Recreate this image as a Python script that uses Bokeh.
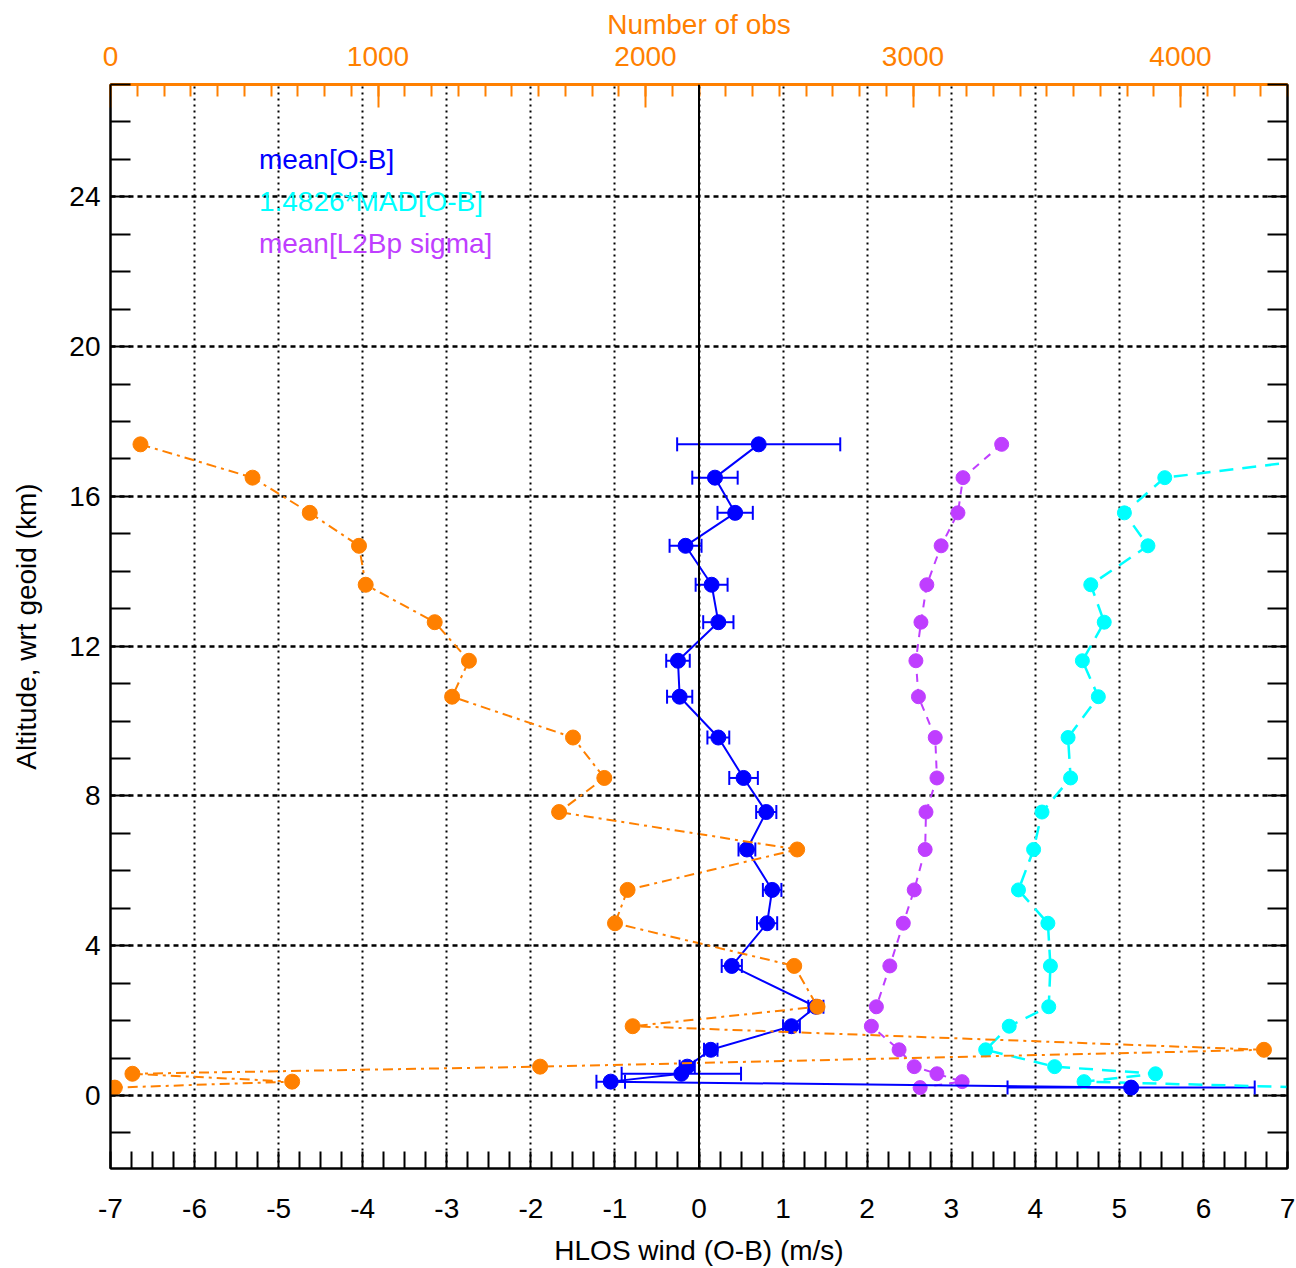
from bokeh.plotting import figure
from bokeh.models import (Range1d, LinearAxis, SingleIntervalTicker, Whisker, TeeHead,
                          ColumnDataSource, Label, Span, Grid, CustomJSTickFormatter)
from bokeh.embed import file_html
from bokeh.resources import INLINE

# ---------------- data ----------------
alt = [17.39, 16.50, 15.56, 14.68, 13.64, 12.64, 11.61, 10.65, 9.56, 8.48, 7.57,
       6.57, 5.49, 4.60, 3.46, 2.37, 1.85, 1.22, 0.77, 0.58, 0.37, 0.21]
mean_ob = [0.71, 0.19, 0.43, -0.16, 0.15, 0.23, -0.25, -0.23, 0.23, 0.53, 0.80,
           0.57, 0.87, 0.81, 0.39, 1.39, 1.10, 0.14, -0.14, -0.21, -1.05, 5.14]
mean_ob_err = [0.97, 0.27, 0.21, 0.19, 0.19, 0.18, 0.14, 0.15, 0.13, 0.17, 0.12,
               0.10, 0.11, 0.12, 0.12, 0.09, 0.10, 0.08, 0.09, 0.71, 0.17, 1.47]
mad_ob = [8.8, 5.54, 5.06, 5.34, 4.66, 4.82, 4.56, 4.75, 4.39, 4.42, 4.08,
          3.98, 3.80, 4.15, 4.18, 4.16, 3.69, 3.41, 4.23, 5.43, 4.58, 7.3]
l2bp_sigma = [3.60, 3.14, 3.08, 2.88, 2.71, 2.64, 2.58, 2.61, 2.81, 2.83, 2.70,
              2.69, 2.56, 2.43, 2.27, 2.11, 2.05, 2.38, 2.56, 2.83, 3.13, 2.63]
n_obs = [112, 531, 745, 929, 954, 1212, 1340, 1277, 1729, 1846, 1677,
         2567, 1933, 1886, 2556, 2643, 1952, 4312, 1606, 82, 679, 16]

x_ticks = [-7, -6, -5, -4, -3, -2, -1, 0, 1, 2, 3, 4, 5, 6, 7]
x_tick_labels = ["-7", "-6", "-5", "-4", "-3", "-2", "-1", "0", "1", "2", "3", "4", "5", "6", "7"]
y_ticks = [0, 4, 8, 12, 16, 20, 24]
y_tick_labels = ["0", "4", "8", "12", "16", "20", "24"]
obs_ticks = [0, 1000, 2000, 3000, 4000]
obs_tick_labels = ["0", "1000", "2000", "3000", "4000"]

legend_texts = ["mean[O-B]", "1.4826*MAD[O-B]", "mean[L2Bp sigma]"]

FONT = "Liberation Sans"
FS = "28px"
ORANGE = "#ff8000"
BLUE = "#0000ff"
CYAN = "#00ffff"
PURPLE = "#bf3eff"

p = figure(width=1296, height=1268, output_backend="svg", toolbar_location=None,
           x_range=Range1d(-7, 7), y_range=Range1d(-1.95, 27),
           x_axis_location=None, y_axis_location=None,
           min_border_left=110, min_border_right=9, min_border_top=84, min_border_bottom=99)
# drop the default (invisible-axis) grids
p.center = [r for r in p.center if not isinstance(r, Grid)]
p.extra_x_ranges = {"obs": Range1d(0, 4400)}
p.outline_line_color = "black"
p.outline_line_width = 2
p.background_fill_color = "white"
p.border_fill_color = "white"

# grids
p.add_layout(Grid(dimension=0, ticker=SingleIntervalTicker(interval=1),
                  grid_line_color="black", grid_line_dash="2 4", grid_line_width=2))
p.add_layout(Grid(dimension=1, ticker=SingleIntervalTicker(interval=4),
                  grid_line_color="black", grid_line_dash="5 4", grid_line_width=2.5))
p.add_layout(Span(location=0, dimension="height", line_color="black", line_width=2))

def style_axis(ax, color, minor_len, major_len=0, lw=2):
    ax.axis_line_color = color
    ax.axis_line_width = lw
    ax.major_tick_line_color = color
    ax.major_tick_line_width = 2
    ax.minor_tick_line_color = color
    ax.minor_tick_line_width = 2
    ax.major_tick_in = major_len
    ax.major_tick_out = 0
    ax.minor_tick_in = minor_len
    ax.minor_tick_out = 0
    ax.major_label_text_font = FONT
    ax.major_label_text_font_size = FS
    ax.major_label_text_color = color
    ax.axis_label_text_font = FONT
    ax.axis_label_text_font_size = FS
    ax.axis_label_text_font_style = "normal"
    ax.axis_label_text_color = color

xb = LinearAxis(ticker=SingleIntervalTicker(interval=1, num_minor_ticks=4),
                axis_label="HLOS wind (O-B) (m/s)",
                major_label_overrides=dict(zip(x_ticks, x_tick_labels)))
style_axis(xb, "black", 17)
xb.major_label_standoff = 30
xb.axis_label_standoff = 14
p.add_layout(xb, "below")

yl = LinearAxis(ticker=SingleIntervalTicker(interval=4, num_minor_ticks=4),
                axis_label="Altitude, wrt geoid (km)",
                major_label_overrides=dict(zip(y_ticks, y_tick_labels)))
style_axis(yl, "black", 20)
yl.major_label_standoff = 10
yl.axis_label_standoff = 24
p.add_layout(yl, "left")

yr = LinearAxis(ticker=SingleIntervalTicker(interval=4, num_minor_ticks=4),
                formatter=CustomJSTickFormatter(code="return ''"))
style_axis(yr, "black", 20)
yr.major_label_standoff = 0
p.add_layout(yr, "right")

xt = LinearAxis(x_range_name="obs", ticker=SingleIntervalTicker(interval=1000, num_minor_ticks=10),
                axis_label="Number of obs",
                major_label_overrides=dict(zip(obs_ticks, obs_tick_labels)))
style_axis(xt, ORANGE, 12, major_len=23, lw=3)
xt.major_label_standoff = 19
xt.axis_label_standoff = 4
p.add_layout(xt, "above")

# cyan MAD
p.line(mad_ob, alt, line_color=CYAN, line_width=2.5, line_dash="14 9")
p.scatter(mad_ob, alt, size=14, fill_color=CYAN, line_color=CYAN)

# purple sigma
p.line(l2bp_sigma, alt, line_color=PURPLE, line_width=2, line_dash="8 7")
p.scatter(l2bp_sigma, alt, size=14, fill_color=PURPLE, line_color=PURPLE)

# blue mean with error bars
src_b = ColumnDataSource(dict(x=mean_ob, y=alt,
                              lo=[m - e for m, e in zip(mean_ob, mean_ob_err)],
                              hi=[m + e for m, e in zip(mean_ob, mean_ob_err)]))
p.add_layout(Whisker(source=src_b, base="y", lower="lo", upper="hi", dimension="width",
                     line_color=BLUE, line_width=2,
                     lower_head=TeeHead(size=14, line_color=BLUE, line_width=2),
                     upper_head=TeeHead(size=14, line_color=BLUE, line_width=2)))
p.line("x", "y", source=src_b, line_color=BLUE, line_width=2)
p.scatter("x", "y", source=src_b, size=15, fill_color=BLUE, line_color=BLUE)

# orange number of obs
p.line(n_obs, alt, x_range_name="obs", line_color=ORANGE, line_width=2, line_dash="10 5 3 5")
p.scatter(n_obs, alt, x_range_name="obs", size=15, fill_color=ORANGE, line_color=ORANGE)

# legend texts
for txt, col, yy in zip(legend_texts, [BLUE, CYAN, PURPLE], [25.0, 23.87, 22.75]):
    p.add_layout(Label(x=-5.235, y=yy, text=txt, text_color=col, text_font=FONT,
                       text_font_size=FS, text_baseline="middle", text_align="left"))

open("out.html", "w").write(file_html(p, INLINE))
